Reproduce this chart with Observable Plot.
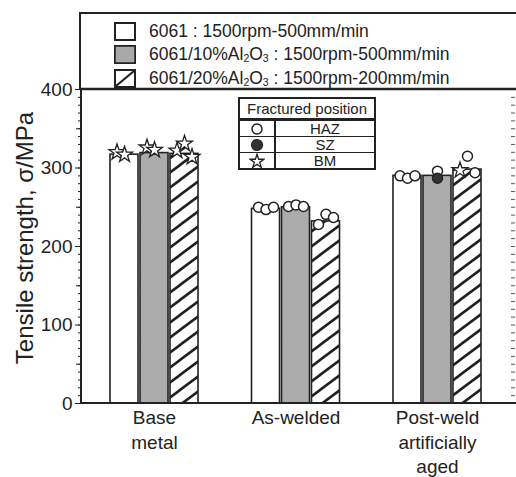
<!DOCTYPE html>
<html>
<head>
<meta charset="utf-8">
<script src="https://cdn.jsdelivr.net/npm/d3@7"></script>
<script src="https://cdn.jsdelivr.net/npm/@observablehq/plot@0.6"></script>
<style>
  html, body { margin: 0; padding: 0; background: #fff; }
  body { width: 516px; height: 477px; overflow: hidden; position: relative; font-family: "Liberation Sans", Arial, sans-serif; color: #222; }
  #chart { position: absolute; left: 0; top: 0; }
  #legend { position: absolute; left: 79px; top: 12px; width: 460px; height: 76px; border-left: 2px solid #222; border-top: 2px solid #222; }
  .lrow { position: absolute; left: 33px; height: 22px; display: flex; align-items: center; font-size: 17.5px; white-space: nowrap; }
  .lrow svg { margin-right: 13px; }
  sub { font-size: 0.6em; vertical-align: -0.15em; }
  #frac { position: absolute; left: 238px; top: 97px; width: 134px; border: 2px solid #222; background: #fff; font-size: 15px; }
  #frac .hd { text-align: center; height: 19px; line-height: 19px; border-bottom: 2px solid #222; }
  #frac .r { display: flex; height: 15px; line-height: 15px; border-top: 1.5px solid #222; }
  #frac .r:first-of-type { border-top: none; }
  #frac .sym { width: 34px; border-right: 2px solid #222; display: flex; justify-content: center; align-items: center; }
  #frac .tx { flex: 1; text-align: center; }
</style>
</head>
<body>
<div id="chart"></div>
<div id="legend"></div>
<div id="frac"></div>
<script>
// ---- data ----
const groups = ["Base metal", "As-welded", "Post-weld artificially aged"];
const groupLabels = ["Base\nmetal", "As-welded", "Post-weld\nartificially\naged"];
const series = ["6061", "6061/10%Al2O3", "6061/20%Al2O3"];
const seriesLegend = ["6061 : 1500rpm-500mm/min", "6061/10%Al<sub>2</sub>O<sub>3</sub> : 1500rpm-500mm/min", "6061/20%Al<sub>2</sub>O<sub>3</sub> : 1500rpm-200mm/min"];
const strength6061 = [317, 248, 290];
const strength10 = [319, 250, 290];
const strength20 = [318, 232, 298];
// specimen fracture results: [groupIndex, seriesIndex, slot, value]
const hazPoints = [
  [1, 0, -1, 250], [1, 0, 0, 247], [1, 0, 1, 250],
  [1, 1, -1, 251], [1, 1, 0, 253], [1, 1, 1, 251],
  [1, 2, 0, 241], [1, 2, 1, 237], [1, 2, -1, 228],
  [2, 0, -1, 290], [2, 0, 0, 287], [2, 0, 1, 290],
  [2, 1, 0, 296],
  [2, 2, 1, 294], [2, 2, 0, 315]
];
const szPoints = [[2, 1, 0, 287]];
const bmPoints = [
  [0, 0, -1, 320], [0, 0, 0, 317],
  [0, 1, -1, 326], [0, 1, 0, 323],
  [0, 2, 0, 331], [0, 2, -1, 322], [0, 2, 1, 314],
  [2, 2, -1, 297]
];
const yTicksMajor = [0, 100, 200, 300, 400];
const fracKinds = ["HAZ", "SZ", "BM"];

// ---- layout in data units (group index on a linear x scale) ----
const barStep = 0.212, barHalf = 0.099;
const strengths = [strength6061, strength10, strength20];
const bars = [];
series.forEach((s, si) => groups.forEach((g, gi) => bars.push({gi, si, series: s, value: strengths[si][gi]})));
const toPts = (arr, kind) => arr.map(([gi, si, slot, v]) => ({gi, si, slot, value: v, kind}));
const pts = [...toPts(hazPoints, "HAZ"), ...toPts(szPoints, "SZ"), ...toPts(bmPoints, "BM")];
const cx = d => d.gi + (d.si - 1) * barStep;

const ink = "#222";
const fills = ["#fff", "url(#speckle)", "url(#hatch)"];
const slots = [-1, 0, 1];

const marks = [];
series.forEach((s, si) => marks.push(Plot.rectY(bars.filter(d => d.si === si), {
  x1: d => cx(d) - barHalf, x2: d => cx(d) + barHalf, y: "value", fill: fills[si], stroke: ink, strokeWidth: 1.6
})));
slots.forEach(sl => {
  marks.push(Plot.dot(pts.filter(d => d.slot === sl && d.kind === "HAZ"), {x: cx, y: "value", dx: sl * 7.5, r: 5, fill: "#fff", stroke: ink, strokeWidth: 1.5}));
  marks.push(Plot.dot(pts.filter(d => d.slot === sl && d.kind === "SZ"), {x: cx, y: "value", dx: sl * 7.5, r: 5, fill: "#333", stroke: ink, strokeWidth: 1.5}));
  marks.push(Plot.dot(pts.filter(d => d.slot === sl && d.kind === "BM"), {x: cx, y: "value", dx: sl * 7.5, r: 5, symbol: "star", fill: "#fff", stroke: ink, strokeWidth: 1.3}));
});
marks.push(Plot.axisY(d3.range(0, 401, 10), {anchor: "left", tickSize: 3, tickFormat: () => "", stroke: ink, label: null}));
marks.push(Plot.axisY(d3.range(50, 400, 100), {anchor: "left", tickSize: 5, tickFormat: () => "", stroke: ink, label: null}));
marks.push(Plot.axisY(yTicksMajor, {anchor: "left", tickSize: 6, tickPadding: 3, fontSize: 19, fill: ink, stroke: ink, label: null}));
marks.push(Plot.axisY(d3.range(0, 401, 10), {anchor: "right", tickSize: 4, tickFormat: () => "", stroke: "#555", label: null}));
marks.push(Plot.axisX([0, 1, 2], {anchor: "bottom", tickSize: 0, tickPadding: 3, fontSize: 19, lineHeight: 1.3, fill: ink, label: null, tickFormat: i => groupLabels[i]}));

const plot = Plot.plot({
  width: 516, height: 477,
  marginLeft: 81, marginRight: 6, marginTop: 89, marginBottom: 74,
  style: {fontFamily: "Liberation Sans, Arial, sans-serif", background: "transparent", color: ink},
  x: {type: "linear", domain: [-0.516, 2.516], axis: null},
  y: {domain: [0, 400], axis: null},
  marks
});
document.getElementById("chart").appendChild(plot);

// defs: hatch and speckle patterns
const svg = d3.select(plot);
const defs = svg.insert("defs", ":first-child");
const hp = defs.append("pattern").attr("id", "hatch").attr("patternUnits", "userSpaceOnUse").attr("width", 20).attr("height", 15);
hp.append("rect").attr("width", 20).attr("height", 15).attr("fill", "#fff");
hp.append("path").attr("d", "M-5,18.75 L25,-3.75 M-25,18.75 L5,-3.75 M15,18.75 L45,-3.75").attr("stroke", ink).attr("stroke-width", 2.6);
const flt = defs.append("filter").attr("id", "grain").attr("x", 0).attr("y", 0).attr("width", 1).attr("height", 1);
flt.append("feTurbulence").attr("type", "fractalNoise").attr("baseFrequency", 0.9).attr("numOctaves", 2).attr("seed", 3);
flt.append("feColorMatrix").attr("type", "matrix").attr("values", "0 0 0 0 0.35  0 0 0 0 0.35  0 0 0 0 0.35  0 0 0 -1.2 1.0");
const sp = defs.append("pattern").attr("id", "speckle").attr("patternUnits", "userSpaceOnUse").attr("width", 60).attr("height", 60);
sp.append("rect").attr("width", 60).attr("height", 60).attr("fill", "#adadad");
sp.append("rect").attr("width", 60).attr("height", 60).attr("filter", "url(#grain)").attr("opacity", 0.35);

// frame lines and y label
const y = plot.scale("y");
const left = 81, right = 516;
const g = svg.append("g").attr("stroke", ink);
g.append("line").attr("x1", left).attr("x2", left).attr("y1", y.apply(0) + 1).attr("y2", y.apply(400)).attr("stroke-width", 2);
g.append("line").attr("x1", left - 1).attr("x2", right).attr("y1", y.apply(0)).attr("y2", y.apply(0)).attr("stroke-width", 2);
g.append("line").attr("x1", left - 1).attr("x2", right).attr("y1", y.apply(400)).attr("y2", y.apply(400)).attr("stroke-width", 2.6);
svg.append("text").attr("transform", `translate(33,${(y.apply(0) + y.apply(400)) / 2 - 8}) rotate(-90)`)
  .attr("text-anchor", "middle").attr("font-size", 24).attr("fill", ink).text("Tensile strength, σ/MPa");

// legend
const swatch = (i) => {
  let inner = "";
  if (i === 1) inner = `<rect x="1" y="1" width="20" height="17" fill="#a8a8a8"/>`;
  if (i === 2) inner = `<path d="M2,17 L20,2" stroke="${ink}" stroke-width="2.2"/>`;
  return `<svg width="22" height="19"><rect x="1" y="1" width="20" height="17" fill="#fff" stroke="${ink}" stroke-width="2"/>${inner}${i===1?`<rect x="1" y="1" width="20" height="17" fill="none" stroke="${ink}" stroke-width="1.5"/>`:""}</svg>`;
};
const leg = document.getElementById("legend");
seriesLegend.forEach((t, i) => {
  const row = document.createElement("div");
  row.className = "lrow";
  row.style.top = (6 + i * 23.5) + "px";
  row.innerHTML = swatch(i) + "<span>" + t + "</span>";
  leg.appendChild(row);
});

// fractured position table
const starPath = d3.symbol(d3.symbolStar, 60)();
const fracSym = {
  HAZ: `<svg width="14" height="14"><circle cx="7" cy="7" r="5" fill="#fff" stroke="${ink}" stroke-width="1.5"/></svg>`,
  SZ: `<svg width="14" height="14"><circle cx="7" cy="7" r="5.5" fill="#333" stroke="${ink}" stroke-width="1.2"/></svg>`,
  BM: `<svg width="16" height="16"><path transform="translate(8,8.5)" d="${starPath}" fill="#fff" stroke="${ink}" stroke-width="1.3"/></svg>`
};
const frac = document.getElementById("frac");
frac.innerHTML = `<div class="hd">Fractured position</div>` + fracKinds.map(k => `<div class="r"><div class="sym">${fracSym[k]}</div><div class="tx">${k}</div></div>`).join("");
</script>
</body>
</html>
